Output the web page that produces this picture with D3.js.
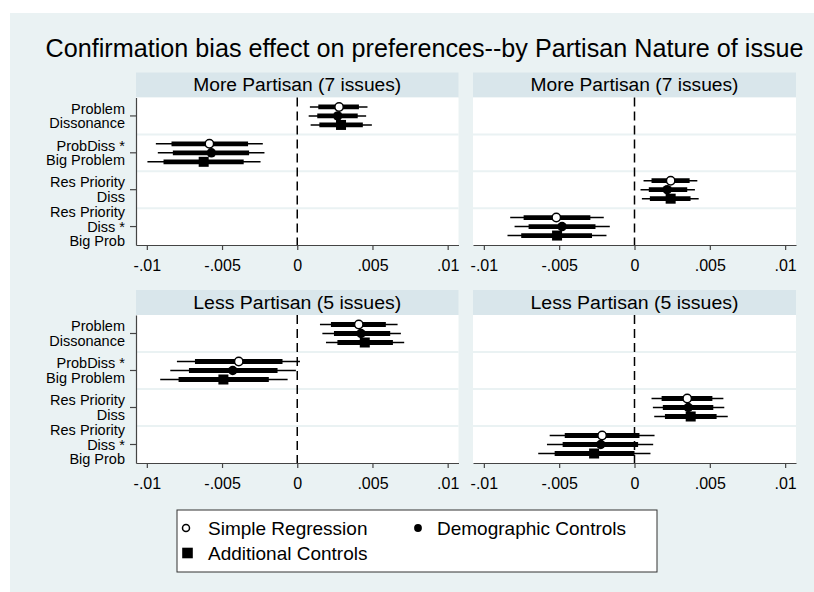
<!DOCTYPE html>
<html>
<head>
<meta charset="utf-8">
<script src="https://cdn.jsdelivr.net/npm/d3@7"></script>
<style>
  body { margin: 0; background: #fff; }
  svg { display: block; font-family: "Liberation Sans", Arial, sans-serif; }
</style>
</head>
<body>
<div id="chart"></div>
<script>
// y-axis categories, one band each
const categoryLabels = [
  ['Problem', 'Dissonance'],
  ['ProbDiss *', 'Big Problem'],
  ['Res Priority', 'Diss'],
  ['Res Priority', 'Diss *', 'Big Prob']
];
const modelNames = ['Simple Regression', 'Demographic Controls', 'Additional Controls'];
const panelTitles = ['More Partisan (7 issues)', 'More Partisan (7 issues)', 'Less Partisan (5 issues)', 'Less Partisan (5 issues)'];
const xTickValues = [-0.01, -0.005, 0, 0.005, 0.01];
const xTickLabels = ['-.01', '-.005', '0', '.005', '.01'];

// rows: [category, model, estimate, inner lo, inner hi, outer lo, outer hi]
const moreProblem = [
  [0, 0, 0.00278, 0.00140, 0.00410, 0.00084, 0.00467],
  [0, 1, 0.00269, 0.00133, 0.00402, 0.00076, 0.00458],
  [0, 2, 0.00291, 0.00147, 0.00436, 0.00089, 0.00496],
  [1, 0, -0.00584, -0.00836, -0.00327, -0.00940, -0.00229],
  [1, 1, -0.00571, -0.00827, -0.00320, -0.00927, -0.00218],
  [1, 2, -0.00622, -0.00889, -0.00356, -0.00996, -0.00244]
];
const morePriority = [
  [2, 0, 0.00240, 0.00113, 0.00366, 0.00060, 0.00417],
  [2, 1, 0.00217, 0.00095, 0.00350, 0.00040, 0.00401],
  [2, 2, 0.00240, 0.00102, 0.00372, 0.00049, 0.00426],
  [3, 0, -0.00519, -0.00736, -0.00293, -0.00825, -0.00204],
  [3, 1, -0.00481, -0.00703, -0.00259, -0.00796, -0.00164],
  [3, 2, -0.00514, -0.00752, -0.00282, -0.00843, -0.00186]
];
const lessProblem = [
  [0, 0, 0.00409, 0.00224, 0.00589, 0.00151, 0.00667],
  [0, 1, 0.00424, 0.00244, 0.00618, 0.00167, 0.00689],
  [0, 2, 0.00449, 0.00267, 0.00636, 0.00191, 0.00711],
  [1, 0, -0.00389, -0.00680, -0.00098, -0.00800, 0.00018],
  [1, 1, -0.00429, -0.00720, -0.00131, -0.00844, -0.00009],
  [1, 2, -0.00491, -0.00789, -0.00189, -0.00911, -0.00064]
];
const lessPriority = [
  [2, 0, 0.00350, 0.00180, 0.00517, 0.00113, 0.00590],
  [2, 1, 0.00357, 0.00188, 0.00523, 0.00122, 0.00596],
  [2, 2, 0.00373, 0.00202, 0.00545, 0.00131, 0.00619],
  [3, 0, -0.00215, -0.00463, 0.00033, -0.00563, 0.00133],
  [3, 1, -0.00224, -0.00477, 0.00024, -0.00581, 0.00124],
  [3, 2, -0.00268, -0.00530, 0.00000, -0.00639, 0.00106]
];

const width = 814, height = 592;
const bgColor = '#eaf2f3', stripColor = '#d9e6eb';
const headerH = 25;

const panels = [
  { data: moreProblem, title: panelTitles[0], left: 136, right: 458.5, top: 97.5, bottom: 245, yAxis: true },
  { data: morePriority, title: panelTitles[1], left: 473, right: 796, top: 97.5, bottom: 245, yAxis: false },
  { data: lessProblem, title: panelTitles[2], left: 136, right: 458.5, top: 315, bottom: 463, yAxis: true },
  { data: lessPriority, title: panelTitles[3], left: 473, right: 796, top: 315, bottom: 463, yAxis: false }
];

const svg = d3.select('#chart').append('svg')
  .attr('width', width)
  .attr('height', height);

svg.append('rect')
  .attr('x', 10).attr('y', 13)
  .attr('width', width - 10).attr('height', height - 13)
  .attr('fill', bgColor);

svg.append('text')
  .attr('x', 424.6).attr('y', 57)
  .attr('text-anchor', 'middle')
  .attr('font-size', 25)
  .attr('textLength', 758)
  .attr('lengthAdjust', 'spacingAndGlyphs')
  .attr('fill', '#000')
  .text('Confirmation bias effect on preferences--by Partisan Nature of issue');

const modelOffset = d3.scalePoint().domain([0, 1, 2]).range([-9, 9]);

function drawMarker(g, model, cx, cy) {
  if (model === 0) {
    g.append('circle').attr('cx', cx).attr('cy', cy).attr('r', 4.2)
      .attr('fill', '#fff').attr('stroke', '#000').attr('stroke-width', 1.5);
  } else if (model === 1) {
    g.append('circle').attr('cx', cx).attr('cy', cy).attr('r', 4.7).attr('fill', '#000');
  } else {
    g.append('rect').attr('x', cx - 5).attr('y', cy - 5)
      .attr('width', 10).attr('height', 10).attr('fill', '#000');
  }
}

panels.forEach(p => {
  const g = svg.append('g');
  const x = d3.scaleLinear().domain([-0.01072, 0.01072]).range([p.left, p.right]);
  const y = d3.scaleBand().domain(d3.range(categoryLabels.length)).range([p.top, p.bottom]);

  // header strip
  g.append('rect')
    .attr('x', p.left).attr('y', p.top - headerH)
    .attr('width', p.right - p.left).attr('height', headerH)
    .attr('fill', stripColor);
  g.append('text')
    .attr('x', (p.left + p.right) / 2).attr('y', p.top - 6.5)
    .attr('text-anchor', 'middle')
    .attr('font-size', 18)
    .attr('textLength', 208)
    .attr('lengthAdjust', 'spacingAndGlyphs')
    .text(p.title);

  // plot region
  g.append('rect')
    .attr('x', p.left).attr('y', p.top)
    .attr('width', p.right - p.left).attr('height', p.bottom - p.top)
    .attr('fill', '#fff');

  // band separators
  g.selectAll('.sep')
    .data(d3.range(1, categoryLabels.length))
    .enter().append('line')
    .attr('x1', p.left).attr('x2', p.right)
    .attr('y1', d => y(d)).attr('y2', d => y(d))
    .attr('stroke', bgColor).attr('stroke-width', 2);

  // zero line
  g.append('line')
    .attr('x1', x(0)).attr('x2', x(0))
    .attr('y1', p.top).attr('y2', p.bottom)
    .attr('stroke', '#000').attr('stroke-width', 1.5)
    .attr('stroke-dasharray', '9,5');

  // x axis
  const xAxis = d3.axisBottom(x)
    .tickValues(xTickValues)
    .tickFormat((d, i) => xTickLabels[i])
    .tickSize(5).tickSizeOuter(0).tickPadding(9.5);
  const ax = g.append('g')
    .attr('transform', `translate(0,${p.bottom})`)
    .call(xAxis);
  ax.select('.domain').attr('stroke', '#444').attr('stroke-width', 1.2);
  ax.selectAll('.tick line').attr('stroke', '#444').attr('stroke-width', 1.2);
  ax.selectAll('.tick text')
    .attr('font-size', 16).attr('fill', '#000')
    .attr('font-family', '"Liberation Sans", Arial, sans-serif');

  // y axis with stacked labels
  if (p.yAxis) {
    const yAxis = d3.axisLeft(y).tickSize(6).tickSizeOuter(0).tickFormat('');
    const ay = g.append('g')
      .attr('transform', `translate(${p.left},0)`)
      .call(yAxis);
    ay.select('.domain').attr('stroke', '#444').attr('stroke-width', 1.2);
    ay.selectAll('.tick line').attr('stroke', '#444').attr('stroke-width', 1.2);
    ay.selectAll('.tick text').remove();
    ay.selectAll('.tick').each(function(d) {
      const lines = categoryLabels[d];
      const t = d3.select(this).append('text')
        .attr('x', -11)
        .attr('text-anchor', 'end')
        .attr('font-size', 14.5)
        .attr('fill', '#000')
        .attr('font-family', '"Liberation Sans", Arial, sans-serif');
      lines.forEach((line, i) => {
        t.append('tspan')
          .attr('x', -11)
          .attr('y', (i - (lines.length - 1) / 2) * 14.5 + 5)
          .text(line);
      });
    });
  }

  // confidence intervals and estimates
  const rows = p.data.map(r => ({
    cat: r[0], model: r[1], b: r[2], lo1: r[3], hi1: r[4], lo2: r[5], hi2: r[6]
  }));
  const cy = d => y(d.cat) + y.bandwidth() / 2 + modelOffset(d.model);

  g.selectAll('.ci-outer')
    .data(rows).enter().append('line')
    .attr('x1', d => x(d.lo2)).attr('x2', d => x(d.hi2))
    .attr('y1', cy).attr('y2', cy)
    .attr('stroke', '#000').attr('stroke-width', 1.4);

  g.selectAll('.ci-inner')
    .data(rows).enter().append('line')
    .attr('x1', d => x(d.lo1)).attr('x2', d => x(d.hi1))
    .attr('y1', cy).attr('y2', cy)
    .attr('stroke', '#000').attr('stroke-width', 4.8);

  rows.forEach(d => drawMarker(g, d.model, x(d.b), cy(d)));
});

// legend
const legend = svg.append('g');
legend.append('rect')
  .attr('x', 177).attr('y', 510)
  .attr('width', 480).attr('height', 62)
  .attr('fill', '#fff').attr('stroke', '#333').attr('stroke-width', 1);

const legendItems = [
  { model: 0, mx: 186, tx: 208, cy: 528 },
  { model: 1, mx: 418, tx: 437, cy: 528 },
  { model: 2, mx: 187.5, tx: 208, cy: 553 }
];
legendItems.forEach(it => {
  if (it.model === 0) {
    legend.append('circle').attr('cx', it.mx).attr('cy', it.cy).attr('r', 3.5)
      .attr('fill', '#fff').attr('stroke', '#000').attr('stroke-width', 1.5);
  } else if (it.model === 1) {
    legend.append('circle').attr('cx', it.mx).attr('cy', it.cy).attr('r', 3.9).attr('fill', '#000');
  } else {
    legend.append('rect').attr('x', it.mx - 5.3).attr('y', it.cy - 5.3)
      .attr('width', 10.6).attr('height', 10.6).attr('fill', '#000');
  }
  legend.append('text')
    .attr('x', it.tx).attr('y', it.cy + 6.8)
    .attr('font-size', 19)
    .attr('fill', '#000')
    .text(modelNames[it.model]);
});
</script>
</body>
</html>
